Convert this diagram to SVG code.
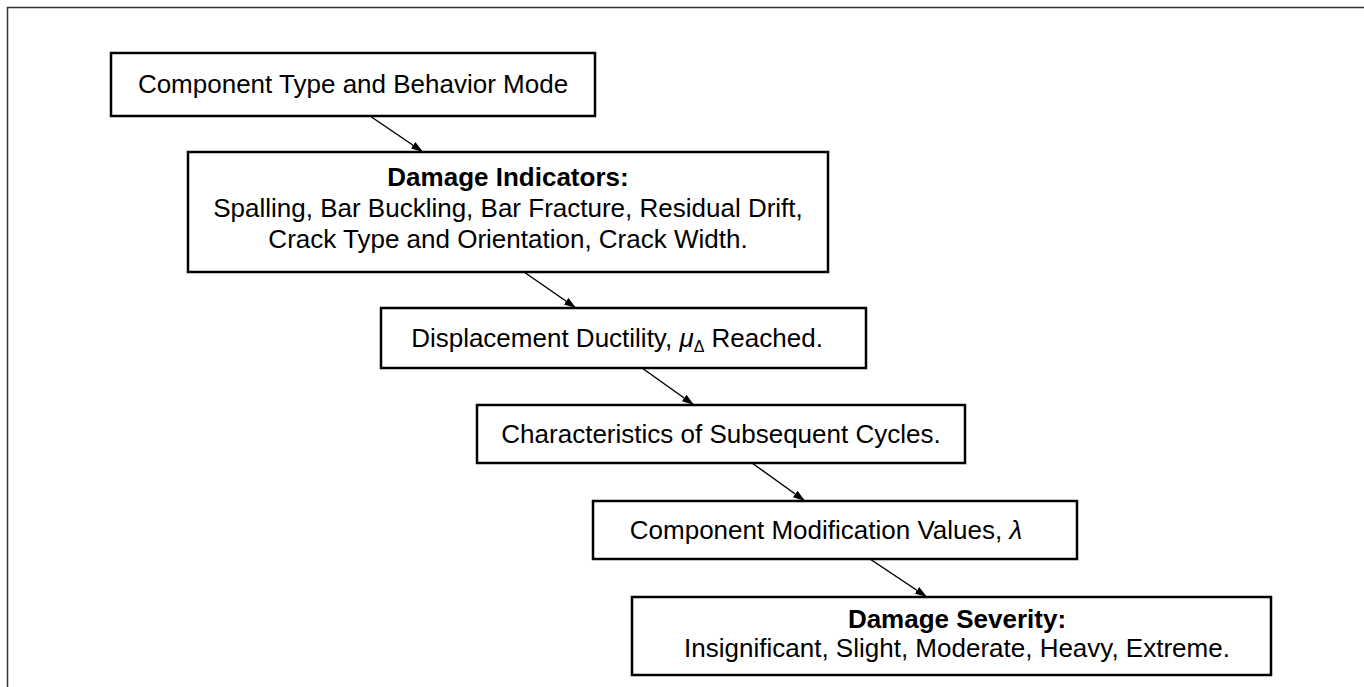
<svg xmlns="http://www.w3.org/2000/svg" width="1364" height="687" viewBox="0 0 1364 687">
<defs>
<style>
.box{fill:#fff;stroke:#000;stroke-width:2.5}
.t{font-family:"Liberation Sans",Arial,sans-serif;font-size:26px;fill:#000;text-anchor:middle}
.b{font-weight:bold}
.c{stroke:#000;stroke-width:1.5;fill:none;marker-end:url(#ah)}
</style>
<marker id="ah" viewBox="0 0 12 8" refX="12" refY="4" markerWidth="12" markerHeight="8" markerUnits="userSpaceOnUse" orient="auto">
<path d="M0,0 L12,4 L0,8 Z" fill="#000"/>
</marker>
</defs>
<rect width="1364" height="687" fill="#fff"/>
<path d="M1364,7.5 H7.5 V687" fill="none" stroke="#333" stroke-width="1.5"/>
<g id="connectors">
<line class="c" x1="370" y1="116" x2="423" y2="152"/>
<line class="c" x1="524" y1="272" x2="576" y2="308"/>
<line class="c" x1="642" y1="368" x2="694" y2="405"/>
<line class="c" x1="752" y1="463" x2="805" y2="501"/>
<line class="c" x1="870" y1="559" x2="927" y2="597"/>
</g>
<g id="n1">
<rect class="box" x="111" y="53" width="484" height="63"/>
<text class="t" x="353" y="93">Component Type and Behavior Mode</text>
</g>
<g id="n2">
<rect class="box" x="188" y="152" width="640" height="120"/>
<text class="t b" x="508" y="186">Damage Indicators:</text>
<text class="t" x="508" y="217">Spalling, Bar Buckling, Bar Fracture, Residual Drift,</text>
<text class="t" x="508" y="248">Crack Type and Orientation, Crack Width.</text>
</g>
<g id="n3">
<rect class="box" x="381" y="308" width="485" height="60"/>
<text class="t" x="617" y="347">Displacement Ductility, <tspan font-style="italic">μ</tspan><tspan font-size="16" dy="5">Δ</tspan><tspan dy="-5"> Reached.</tspan></text>
</g>
<g id="n4">
<rect class="box" x="477" y="405" width="488" height="58"/>
<text class="t" x="721" y="443">Characteristics of Subsequent Cycles.</text>
</g>
<g id="n5">
<rect class="box" x="593" y="501" width="484" height="58"/>
<text class="t" x="826" y="539">Component Modification Values, <tspan font-style="italic">λ</tspan></text>
</g>
<g id="n6">
<rect class="box" x="632" y="597" width="639" height="78"/>
<text class="t b" x="957" y="628">Damage Severity:</text>
<text class="t" x="957" y="657">Insignificant, Slight, Moderate, Heavy, Extreme.</text>
</g>
</svg>
